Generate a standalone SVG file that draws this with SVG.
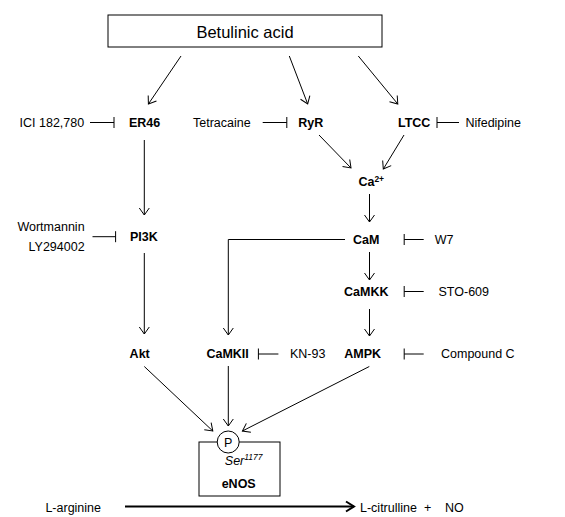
<svg xmlns="http://www.w3.org/2000/svg" width="565" height="517" viewBox="0 0 565 517">
<defs>
<style>
text{font-family:"Liberation Sans",Arial,sans-serif;font-size:12.5px;fill:#000}
.b{font-weight:bold}
.m{text-anchor:middle}
.e{text-anchor:end}
.ln{stroke:#000;stroke-width:1;fill:none}
.act{marker-end:url(#arrow)}
.inh{marker-end:url(#bar)}
</style>
<marker id="arrow" markerUnits="userSpaceOnUse" viewBox="-10 -7 12 14" markerWidth="12" markerHeight="14" refX="0" refY="0" orient="auto" overflow="visible">
<path d="M-7,-5 L0,0 L-7,5" fill="none" stroke="#000" stroke-width="1"/>
</marker>
<marker id="arrowBold" markerUnits="userSpaceOnUse" viewBox="-12 -8 14 16" markerWidth="14" markerHeight="16" refX="0" refY="0" orient="auto" overflow="visible">
<path d="M-8,-5 L0,0 L-8,5" fill="none" stroke="#000" stroke-width="2"/>
</marker>
<marker id="bar" markerUnits="userSpaceOnUse" viewBox="-2 -7 4 14" markerWidth="4" markerHeight="14" refX="0" refY="0" orient="auto" overflow="visible">
<path d="M0,-5.5 L0,5.5" fill="none" stroke="#000" stroke-width="1"/>
</marker>
</defs>

<g id="connectors">
<line class="ln act" x1="181" y1="56" x2="148.4" y2="104"/>
<line class="ln act" x1="289.3" y1="56" x2="307.7" y2="104"/>
<line class="ln act" x1="358.3" y1="56" x2="397.8" y2="104"/>
<line class="ln act" x1="144.3" y1="140" x2="144.3" y2="215"/>
<line class="ln act" x1="319" y1="135" x2="351" y2="168"/>
<line class="ln act" x1="404" y1="135" x2="383.3" y2="169"/>
<line class="ln act" x1="369.5" y1="194" x2="369.5" y2="222"/>
<polyline class="ln act" points="345,239.5 228.3,239.5 228.3,335"/>
<line class="ln act" x1="369.5" y1="252" x2="369.5" y2="280"/>
<line class="ln act" x1="369.5" y1="309" x2="369.5" y2="336"/>
<line class="ln act" x1="144.3" y1="253" x2="144.3" y2="334"/>
<line class="ln act" x1="144.3" y1="366.5" x2="212.8" y2="431"/>
<line class="ln act" x1="228.3" y1="366" x2="228.3" y2="426"/>
<line class="ln act" x1="369.3" y1="366.5" x2="242.4" y2="431"/>
<line x1="125" y1="506.5" x2="354" y2="506.5" stroke="#000" stroke-width="2" marker-end="url(#arrowBold)"/>
<line class="ln inh" x1="90" y1="122.5" x2="114" y2="122.5"/>
<line class="ln inh" x1="262.7" y1="122.5" x2="286.8" y2="122.5"/>
<line class="ln inh" x1="459" y1="122.5" x2="437" y2="122.5"/>
<line class="ln inh" x1="92.5" y1="236.7" x2="115.6" y2="236.7"/>
<line class="ln inh" x1="423.7" y1="239.5" x2="404.2" y2="239.5"/>
<line class="ln inh" x1="423.7" y1="291.5" x2="404.2" y2="291.5"/>
<line class="ln inh" x1="278.4" y1="354" x2="258.4" y2="354"/>
<line class="ln inh" x1="423.7" y1="354" x2="404.2" y2="354"/>
</g>

<g id="betulinic-acid">
<rect x="108" y="15" width="274" height="32" fill="#fff" stroke="#000" stroke-width="1"/>
<text class="m" x="245" y="37.5" style="font-size:16.5px">Betulinic acid</text>
</g>

<g id="ici"><text class="e" x="84.2" y="127">ICI 182,780</text></g>
<g id="er46"><text class="b" x="129" y="127">ER46</text></g>
<g id="tetracaine"><text class="e" x="250.7" y="127">Tetracaine</text></g>
<g id="ryr"><text class="b" x="298.3" y="127">RyR</text></g>
<g id="ltcc"><text class="b" x="398" y="127">LTCC</text></g>
<g id="nifedipine"><text class="e" x="521" y="127">Nifedipine</text></g>

<g id="ca"><text class="b" x="358.4" y="186">Ca<tspan style="font-size:8.5px" dy="-4.5">2+</tspan></text></g>

<g id="wortmannin"><text class="e" x="84.6" y="231">Wortmannin</text><text class="e" x="84.6" y="251">LY294002</text></g>
<g id="pi3k"><text class="b" x="130" y="241">PI3K</text></g>
<g id="cam"><text class="b m" x="366.3" y="244">CaM</text></g>
<g id="w7"><text x="434.8" y="244">W7</text></g>
<g id="camkk"><text class="b m" x="366.3" y="296">CaMKK</text></g>
<g id="sto609"><text x="438.5" y="296">STO-609</text></g>

<g id="akt"><text class="b m" x="139.7" y="358">Akt</text></g>
<g id="camkii"><text class="b m" x="227.6" y="358">CaMKII</text></g>
<g id="kn93"><text x="290" y="358">KN-93</text></g>
<g id="ampk"><text class="b m" x="362.6" y="358">AMPK</text></g>
<g id="compound-c"><text x="441" y="358">Compound C</text></g>

<g id="enos">
<rect x="199" y="442" width="81" height="54" fill="#fff" stroke="#000" stroke-width="1"/>
<circle cx="228.2" cy="442" r="11" fill="#fff" stroke="#000" stroke-width="1"/>
<text class="m" x="228.2" y="446.5">P</text>
<text x="224.8" y="465" style="font-style:italic">Ser<tspan style="font-size:8.5px" dy="-5">1177</tspan></text>
<text class="b m" x="238.7" y="488">eNOS</text>
</g>

<g id="l-arginine"><text class="e" x="101" y="512">L-arginine</text></g>
<g id="products"><text x="360" y="512">L-citrulline</text><text x="424" y="512">+</text><text x="445" y="512">NO</text></g>
</svg>
